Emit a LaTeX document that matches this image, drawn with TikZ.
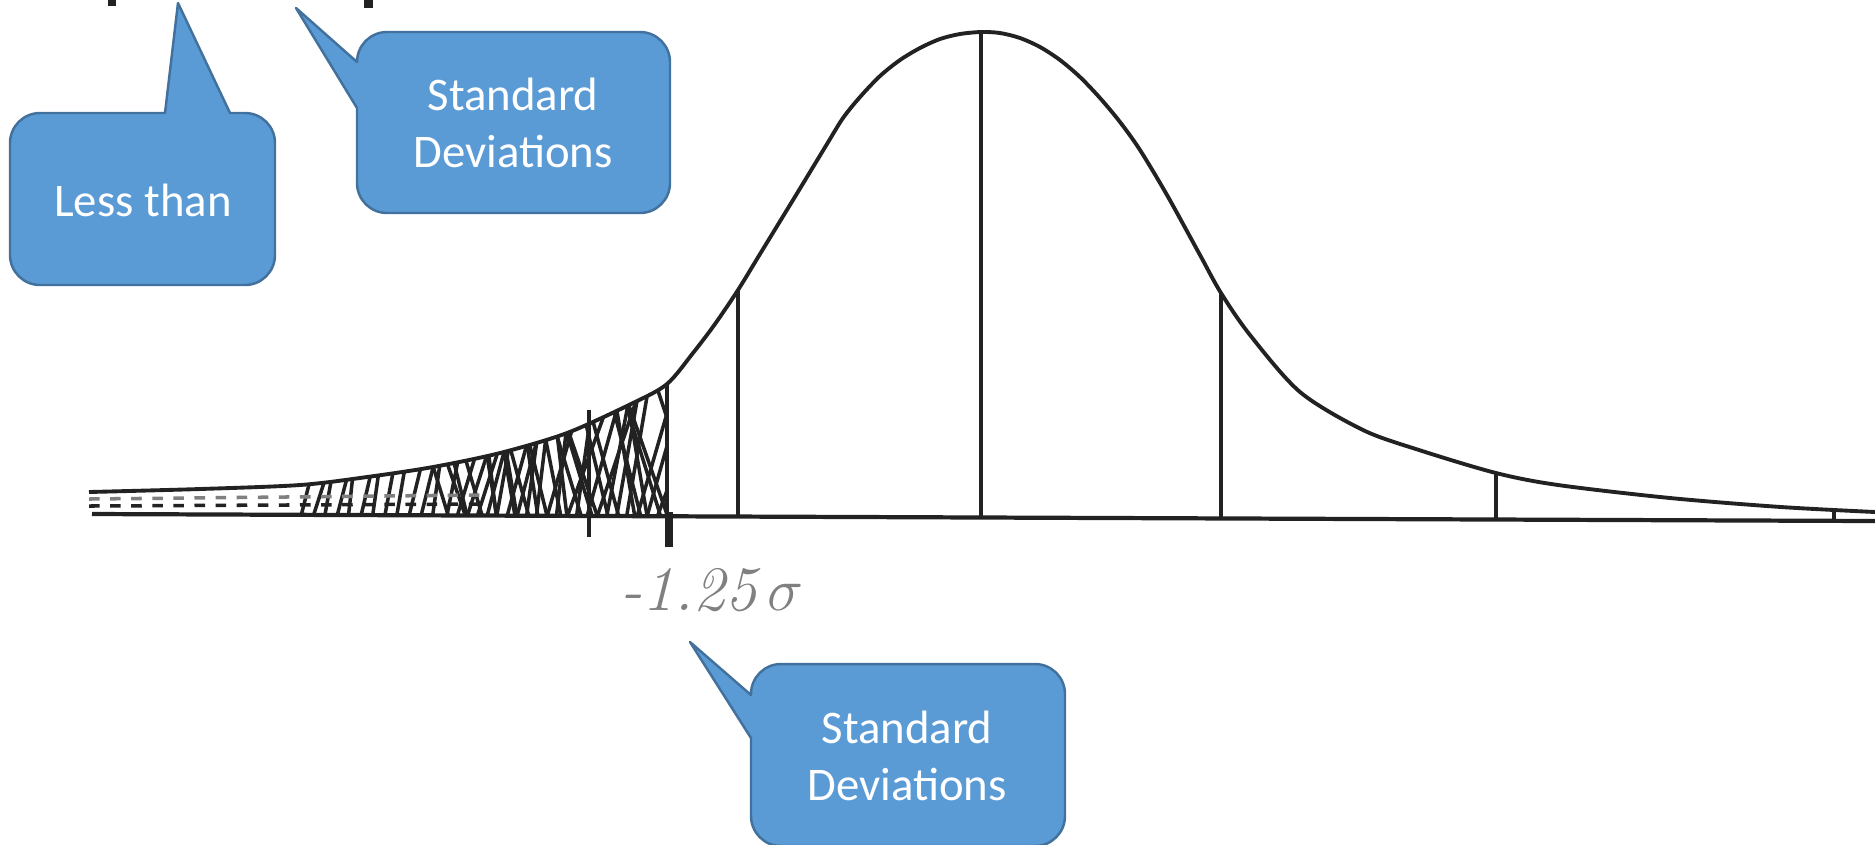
\documentclass[tikz,border=0pt]{standalone}
\usepackage{fontspec}
\usepackage{tikz}
\usetikzlibrary{calc}
\newfontfamily\calibri{Carlito}
\definecolor{bubblefill}{RGB}{91,155,213}
\definecolor{bubbleedge}{RGB}{65,113,156}
\definecolor{ink}{RGB}{34,34,34}
\tikzset{
  bubble/.style={fill=bubblefill, draw=bubbleedge, line width=0.7pt, line join=round},
  bubbletext/.style={text=white, font=\calibri\fontsize{13.3}{16.2}\selectfont, align=center, inner sep=0pt},
  curve/.style={draw=ink, line width=1.1pt, line join=round},
  sdline/.style={draw=ink, line width=1.1pt},
  hatch/.style={draw=ink, line width=1pt},
  handlabel/.style={text=black!50, font=\fontsize{18}{20}\selectfont\itshape}
}

\begin{document}
\begin{tikzpicture}[x=0.01cm, y=-0.01cm]
  \useasboundingbox (0,0) rectangle (1875,844);
  % cut-off marks at the top edge
  \fill[ink] (108,0) rectangle (116,6);
  \fill[ink] (364,0) rectangle (373,8);
  % hatched tail below -1.25 sigma
  \begin{scope}
    \clip plot[smooth] coordinates {(89,492) (200,489) (300,485) (367,477) (433,467) (500,453) (567,433) (633,403) (667,384)} -- (667,515) -- (89,515) -- cycle;
    \pgfmathsetseed{11}
    \foreach \x in {300,312,...,440} {
      \pgfmathsetmacro{\dx}{15+35*rnd}
      \draw[hatch] (\x,520) -- (\x+\dx,370);
    }
    \foreach \x in {446,456,...,700} {
      \pgfmathsetmacro{\dx}{15+45*rnd}
      \pgfmathsetmacro{\dy}{15+45*rnd}
      \pgfmathsetmacro{\sh}{12*rnd}
      \draw[hatch] (\x,520) -- (\x+\dx,370);
      \draw[hatch] (\x+\sh,520) -- (\x+\sh-\dy,370);
    }
    \draw[hatch, dashed, draw=black!50] (89,499) -- (480,495);
    \draw[hatch, dashed] (89,506) -- (480,504);
  \end{scope}
  % curve
  \draw[curve] plot[smooth] coordinates {(89,492) (200,489) (300,485) (367,477) (433,467) (500,453) (567,433) (633,403) (667,384) (693,353) (715,324) (738,290) (760,254) (793,200) (810,172) (827,144) (843,118) (860,97) (880,76) (900,60) (920,48) (940,39) (960,34) (981,32) (1000,33) (1020,38) (1040,47) (1060,60) (1080,77) (1100,98) (1120,122) (1140,150) (1167,195) (1200,255) (1221,293) (1250,335) (1300,392) (1363,430) (1419,450) (1496,473) (1558,485) (1670,498) (1781,507) (1875,512)};
  % axis and sigma lines
  \draw[line width=1.2pt, ink] (92,514) -- (1875,521);
  \draw[sdline] (667,515) -- (667,384);
  \draw[line width=2pt, ink] (669,512) -- (669,547);
  \draw[sdline] (738,517) -- (738,290);
  \draw[sdline] (981,517) -- (981,32);
  \draw[sdline] (1221,518) -- (1221,293);
  \draw[sdline] (1496,520) -- (1496,473);
  \draw[sdline] (589,410) -- (589,537);
  \draw[sdline] (1834,508) -- (1834,522);
  \node[handlabel] (minuslabel) at (712,590) {-1.25\,$\sigma$};
  % callouts
  \draw[bubble] (10,200) [rounded corners=0.3cm] -- (10,113) [sharp corners] -- (165,113) -- (178,3) -- (230,113) [rounded corners=0.3cm] -- (275,113) -- (275,285) -- (10,285) -- cycle;
  \node[bubbletext] (lessthan) at (143,200) {Less than};
  \draw[bubble] (357,150) -- (357,108) -- (296,8) -- (357,62) [rounded corners=0.3cm] -- (357,32) -- (670,32) -- (670,213) -- (357,213) -- cycle;
  \node[bubbletext] (sdtop) at (513,123) {Standard\\Deviations};
  \draw[bubble] (751,780) -- (751,738) -- (690,642) -- (751,695) [rounded corners=0.3cm] -- (751,664) -- (1065,664) -- (1065,846) -- (751,846) -- cycle;
  \node[bubbletext] (sdbottom) at (907,756) {Standard\\Deviations};
\end{tikzpicture}
\end{document}
